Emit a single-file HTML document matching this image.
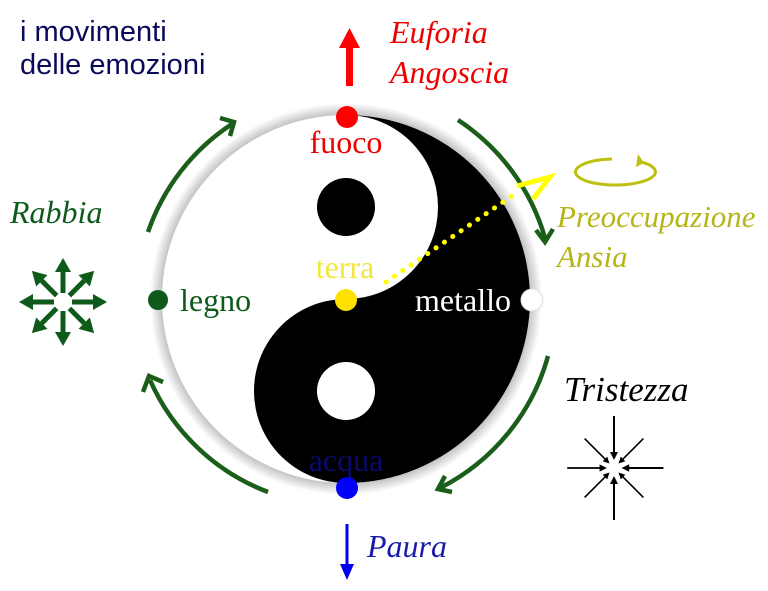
<!DOCTYPE html>
<html><head><meta charset="utf-8"><style>
html,body{margin:0;padding:0;background:#fff}
svg{display:block}
.s{font-family:"Liberation Serif",serif}
.i{font-family:"Liberation Serif",serif;font-style:italic}
</style></head><body>
<svg width="768" height="591" viewBox="0 0 768 591" xmlns="http://www.w3.org/2000/svg">
<defs>
<radialGradient id="sh" cx="0.5" cy="0.5" r="0.5">
<stop offset="0.93" stop-color="#bbb"/><stop offset="1" stop-color="#fff"/>
</radialGradient>
</defs>
<text x="20" y="41" font-family="Liberation Sans,sans-serif" font-size="29" fill="#0a0a5a">i movimenti</text>
<text x="20" y="74" font-family="Liberation Sans,sans-serif" font-size="29" fill="#0a0a5a">delle emozioni</text>
<!-- red arrow -->
<rect x="346" y="46" width="7" height="40" fill="#f00"/>
<polygon points="339,48 360,48 349.5,28" fill="#f00"/>
<text x="390" y="43" class="i" font-size="32" fill="#e00">Euforia</text>
<text x="390" y="83" class="i" font-size="32" fill="#e00">Angoscia</text>
<!-- yin yang -->
<circle cx="346" cy="299" r="196" fill="url(#sh)"/>
<circle cx="346" cy="299" r="184" fill="#fff"/>
<path d="M346,115 A184,184 0 0 1 346,483 A92,92 0 0 1 346,299 A92,92 0 0 0 346,115 Z" fill="#000"/>
<circle cx="346" cy="207" r="29" fill="#000"/>
<circle cx="346" cy="391" r="29" fill="#fff"/>
<!-- green arcs -->
<g fill="none" stroke="#1a5e1a" stroke-width="4.5">
<path d="M148,232 A211,211 0 0 1 232,124"/>
<path d="M458,120 A211,211 0 0 1 545,238"/>
<path d="M548,356 A211,211 0 0 1 440,488"/>
<path d="M268,492 A211,211 0 0 1 150,380"/>
<polyline points="220,118 234,122 230,136"/>
<polyline points="536,230 545,242 553,229"/>
<polyline points="445,476 438,489 452,492"/>
<polyline points="143,392 149,376 163,382"/>
</g>
<!-- dots -->
<circle cx="347" cy="117" r="11" fill="#f00"/>
<circle cx="346" cy="300" r="11" fill="#ffe000"/>
<circle cx="158" cy="300" r="10" fill="#0d5a1a"/>
<circle cx="532" cy="300" r="11" fill="#fff" stroke="#ddd" stroke-width="1"/>
<circle cx="347" cy="488" r="11" fill="#0000ff"/>
<!-- yellow dotted -->
<line x1="386" y1="282" x2="512" y2="196" stroke="#ffff00" stroke-width="5" stroke-dasharray="0.1 10" stroke-linecap="round"/>
<polyline points="517,186 550,177 533,199" fill="none" stroke="#ffff00" stroke-width="5" stroke-linejoin="miter"/>
<path d="M637,161 A40,13 0 1 1 612,159" fill="none" stroke="#bfbf10" stroke-width="3"/>
<polygon points="644,163 638,154 636,167" fill="#bfbf10"/>
<!-- labels -->
<text x="346" y="153" text-anchor="middle" class="s" font-size="32" fill="#e00">fuoco</text>
<text x="345" y="278" text-anchor="middle" class="s" font-size="32" fill="#f2e640">terra</text>
<text x="180" y="311" class="s" font-size="32" fill="#0d5a1a">legno</text>
<text x="415" y="311" class="s" font-size="32" fill="#fff">metallo</text>
<text x="346" y="471" text-anchor="middle" class="s" font-size="32" fill="#0a0a6a">acqua</text>
<text x="10" y="223" class="i" font-size="32" fill="#0d5a1a">Rabbia</text>
<text x="557" y="227" class="i" font-size="31" fill="#b5b518">Preoccupazione</text>
<text x="557" y="267" class="i" font-size="31" fill="#b5b518">Ansia</text>
<text x="564" y="401" class="i" font-size="35" fill="#000">Tristezza</text>
<text x="367" y="557" class="i" font-size="32" fill="#1a1aaa">Paura</text>
<!-- blue arrow -->
<line x1="347" y1="524" x2="347" y2="568" stroke="#0000ee" stroke-width="3"/>
<polygon points="340,564 354,564 347,580" fill="#0000ee"/>
<!-- Rabbia star -->
<g stroke="#0d5a1a" stroke-width="5" fill="#0d5a1a">
<g transform="translate(63,302)">
<g id="ra"><line x1="0" y1="-9" x2="0" y2="-30"/><polygon points="-8,-30 8,-30 0,-44" stroke="none"/></g>
<use href="#ra" transform="rotate(45)"/><use href="#ra" transform="rotate(90)"/><use href="#ra" transform="rotate(135)"/>
<use href="#ra" transform="rotate(180)"/><use href="#ra" transform="rotate(225)"/><use href="#ra" transform="rotate(270)"/><use href="#ra" transform="rotate(315)"/>
</g></g>
<!-- Tristezza star -->
<g transform="translate(614,468)" stroke="#000" stroke-width="2" fill="#000">
<g id="ta"><line x1="0" y1="-52" x2="0" y2="-14"/><polygon points="-4,-16 4,-16 0,-8" stroke="none"/></g>
<use href="#ta" transform="rotate(45) scale(0.8)"/><use href="#ta" transform="rotate(90) scale(0.95)"/><use href="#ta" transform="rotate(135) scale(0.8)"/>
<use href="#ta" transform="rotate(180)"/><use href="#ta" transform="rotate(225) scale(0.8)"/><use href="#ta" transform="rotate(270) scale(0.9)"/><use href="#ta" transform="rotate(315) scale(0.8)"/>
</g>
</svg>
</body></html>
